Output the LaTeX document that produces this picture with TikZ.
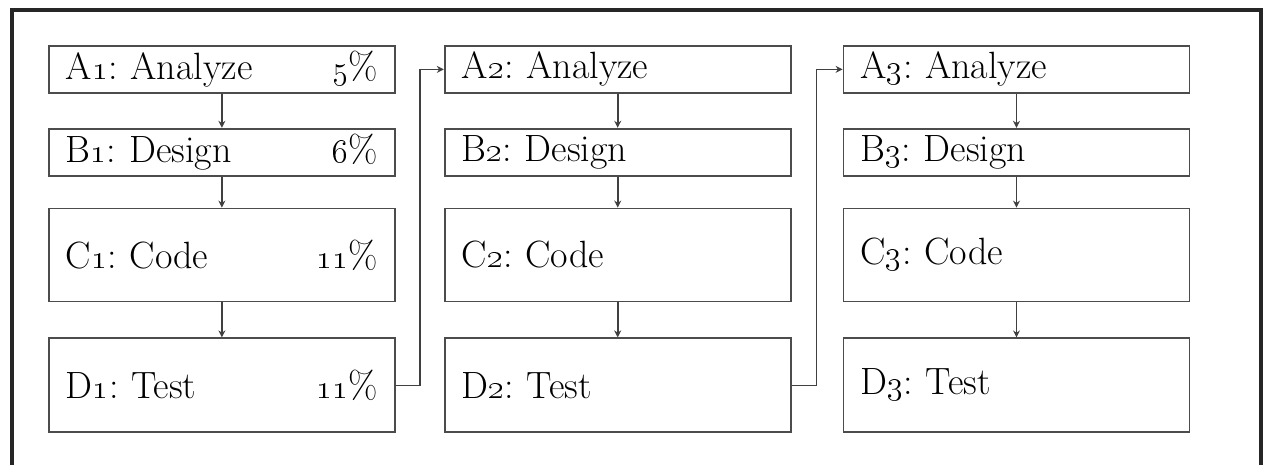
\documentclass[tikz,border=0pt]{standalone}
\usepackage{tikz}
\usetikzlibrary{positioning,arrows.meta}

\begin{document}
\begin{tikzpicture}[x=0.5pt, y=-0.5pt,
  font=\fontsize{19}{22}\selectfont\frenchspacing,
  stage/.style={draw=black!70, line width=0.9pt, inner xsep=8.5pt, inner ysep=0pt, text width=156pt, align=left},
  short/.style={stage, minimum height=23.5pt},
  tall/.style={stage, minimum height=46.5pt},
  frame/.style={draw=black!85, line width=2pt},
  flow/.style={draw=black!75, line width=0.8pt, -{Stealth[length=3.5pt, width=3.5pt]}}]
\useasboundingbox (0,0) rectangle (1265,465);
% open frame round the three iterations
\draw[frame] (12,470) |- (1261,10) -- (1261,470);
% first iteration, with its share of the effort
\node[short, anchor=north west] (a1) at (48,45) {A\oldstylenums{1}: Analyze\hfill\oldstylenums{5}\%\hspace*{7pt}};
\node[short, below=17pt of a1] (b1) {B\oldstylenums{1}: Design\hfill\oldstylenums{6}\%\hspace*{7pt}};
\node[tall, below=15.5pt of b1] (c1) {C\oldstylenums{1}: Code\hfill\oldstylenums{11}\%\hspace*{9.5pt}};
\node[tall, minimum height=47pt, below=17.5pt of c1] (d1) {D\oldstylenums{1}: Test\hfill\oldstylenums{11}\%\hspace*{9.5pt}};
% second iteration
\node[short, right=24pt of a1] (a2) {A\oldstylenums{2}: Analyze};
\node[short, below=17pt of a2] (b2) {B\oldstylenums{2}: Design};
\node[tall, below=15.5pt of b2] (c2) {C\oldstylenums{2}: Code};
\node[tall, minimum height=47pt, below=17.5pt of c2] (d2) {D\oldstylenums{2}: Test};
% third iteration
\node[short, right=25.5pt of a2] (a3) {A\oldstylenums{3}: Analyze};
\node[short, below=17pt of a3] (b3) {B\oldstylenums{3}: Design};
\node[tall, below=15.5pt of b3] (c3) {C\oldstylenums{3}: Code};
\node[tall, minimum height=47pt, below=17.5pt of c3] (d3) {D\oldstylenums{3}: Test};
% steps inside each iteration
\foreach \i in {1,2,3} {
  \draw[flow] (a\i) -- (b\i);
  \draw[flow] (b\i) -- (c\i);
  \draw[flow] (c\i) -- (d\i);
}
% hand over to the next iteration
\draw[flow] (d1.east) -- ++(12pt,0) |- (a2.west);
\draw[flow] (d2.east) -- ++(12.5pt,0) |- (a3.west);
\end{tikzpicture}
\end{document}
